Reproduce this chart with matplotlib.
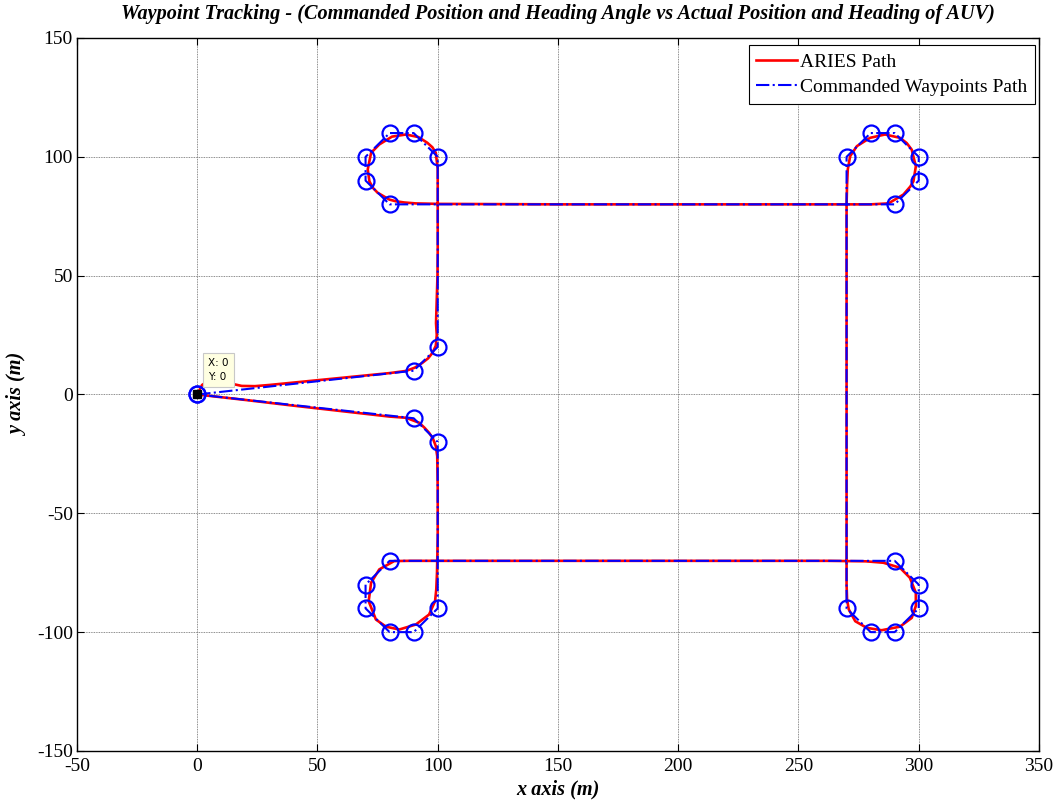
import numpy as np
import matplotlib.pyplot as plt
from matplotlib.lines import Line2D

# commanded waypoints (m)
wp_x = [0, 90, 100, 100, 90, 80, 70, 70, 80, 290, 300, 300, 290, 280, 270,
        270, 280, 290, 300, 300, 290, 80, 70, 70, 80, 90, 100, 100, 90, 0]
wp_y = [0, 10, 20, 100, 110, 110, 100, 90, 80, 80, 90, 100, 110, 110, 100,
        -90, -100, -100, -90, -80, -70, -70, -80, -90, -100, -100, -90, -20, -10, 0]

# vehicle track (m)
aries_x = [0, 2, 6, 10, 14, 18.5, 24, 30, 40, 50, 60, 70, 80, 86.8, 90.5, 93.6, 96,
           97.8, 99.2, 99.6, 99.3, 99.6, 99.9, 100, 100, 100, 99.2, 97.8, 95.7, 92,
           86.8, 81, 75.7, 72.3, 70.9, 71.6, 73, 75, 79.9, 82.6, 86, 90.9, 100, 150,
           200, 250, 280, 287.4, 293.6, 296.5, 297.8, 298.8, 297.1, 295, 292.2, 286,
           279.8, 274.3, 271.5, 270.5, 270.2, 270, 270, 270, 270.2, 270.9, 273.6,
           278.4, 284.6, 292.2, 297.1, 298.8, 298.8, 296.3, 292.2, 285.3, 278, 262,
           200, 150, 100, 88, 81.9, 75.7, 72.3, 71.3, 74.3, 78.5, 84, 90.9, 96.4,
           98.9, 99.4, 99.7, 100, 100, 99.8, 99.2, 98, 96.4, 94.5, 92.3, 86.8, 80,
           60, 40, 20, 0]
aries_y = [0, 4, 6.5, 6, 4.6, 3.6, 3.5, 4.0, 5.0, 6.0, 7.0, 8.0, 9.0, 9.9, 11.3, 13.3,
           15.2, 17.5, 20.5, 25, 30, 40, 50, 60, 80, 95, 101.7, 104, 105.9, 108.3,
           109.4, 108.5, 105.2, 101.7, 94.7, 89.7, 87, 84.9, 82, 81.3, 80.8, 80.4,
           80.2, 80, 80, 80, 80, 80.4, 84.1, 87.5, 89.7, 96, 103, 105.8, 108, 109.4,
           108, 104.5, 100.3, 94.7, 88, 80, 0, -80, -86.2, -90.4, -95.4, -98.2,
           -99.2, -97.7, -94, -89, -83.4, -77.1, -72.9, -70.8, -70.2, -70, -70, -70,
           -70, -70, -70.1, -73.6, -79.2, -87, -94.7, -97.7, -98.9, -96.8, -92.6,
           -87, -82, -75, -60, -40, -26, -21.7, -18.5, -16.1, -14, -11.9, -9.8,
           -9.3, -7.0, -4.7, -2.3, 0]

plt.rcParams['font.family'] = ['Liberation Serif', 'DejaVu Serif']
plt.rcParams['axes.unicode_minus'] = False

fig = plt.figure(figsize=(10.63, 8), dpi=100)
ax = fig.add_axes([0.0724, 0.0613, 0.9050, 0.8912])

ax.plot(aries_x, aries_y, color='red', lw=1.9, zorder=3)
ax.plot(wp_x, wp_y, color='blue', ls='-.', lw=1.5, marker='o', ms=11.5,
        mfc='none', mec='blue', mew=1.6, zorder=4)

# data tip at the start point
ax.plot([wp_x[0]], [wp_y[0]], 's', color='black', ms=6, zorder=6)
ax.annotate('X: 0\nY: 0', xy=(wp_x[0], wp_y[0]), xytext=(8, 9), textcoords='offset points',
            fontsize=7.5, family='DejaVu Sans', va='bottom', ha='left', linespacing=1.5,
            bbox=dict(boxstyle='square,pad=0.5', fc='#ffffe1', ec='#c8c8c8', lw=0.8),
            zorder=7)

ax.set_xlim(-50, 350)
ax.set_ylim(-150, 150)
ax.set_xticks(np.arange(-50, 351, 50))
ax.set_yticks(np.arange(-150, 151, 50))
ax.grid(True, color='0.4', lw=0.6, ls=(0, (1, 1)))
ax.tick_params(direction='in', top=True, right=True, length=5, labelsize=14)
ax.tick_params(axis='x', pad=5)
ax.tick_params(axis='y', pad=3)
for s in ax.spines.values():
    s.set_linewidth(1.0)

ax.set_title('Waypoint Tracking - (Commanded Position and Heading Angle vs Actual Position and Heading of AUV)',
             fontsize=14.6, fontweight='bold', style='italic', pad=14)
ax.set_xlabel('x axis (m)', fontsize=14.6, fontweight='bold', style='italic', labelpad=3)
ax.set_ylabel('y axis (m)', fontsize=14.6, fontweight='bold', style='italic', labelpad=6)

# legend shows plain line styles
handles = [Line2D([], [], color='red', lw=1.9),
           Line2D([], [], color='blue', ls='-.', lw=1.5)]
leg = ax.legend(handles, ['ARIES Path', 'Commanded Waypoints Path'],
                loc='upper right', bbox_to_anchor=(0.996, 0.99), fontsize=14,
                fancybox=False, framealpha=1, edgecolor='black', borderaxespad=0,
                handlelength=2.1, borderpad=0.4, labelspacing=0.4, handletextpad=0.15)
leg.get_frame().set_linewidth(0.8)

fig.savefig('out.png', dpi=100)
